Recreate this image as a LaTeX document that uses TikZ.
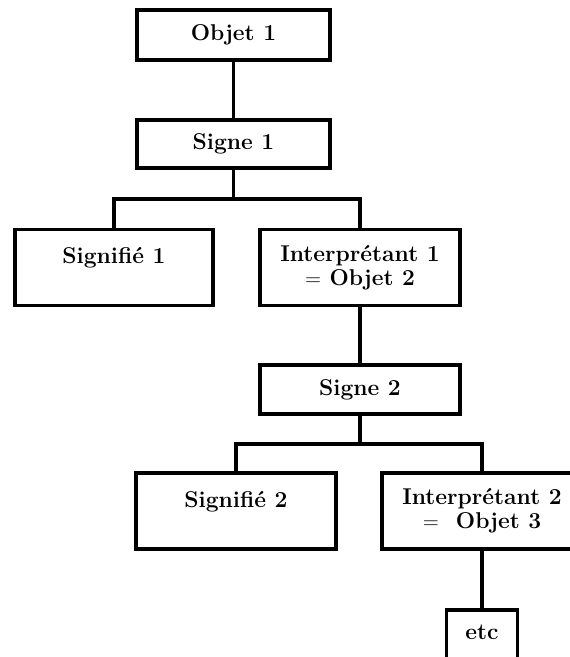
\documentclass[tikz,border=0pt]{standalone}
\usepackage{amsmath}
\usepackage{tikz}
\tikzset{
  box/.style={draw, line width=2.2pt, inner sep=0pt, align=center,
    minimum width=4cm, minimum height=1cm,
    font=\fontsize{13}{13.6}\selectfont\bfseries},
  tall/.style={minimum height=1.52cm},
  link/.style={line width=2.2pt}
}

\begin{document}
\begin{tikzpicture}[x=0.02cm,y=-0.02cm]
            \useasboundingbox (0,0) rectangle (570,657);
            % First sign
            \node[box, minimum width=3.86cm] (obj1) at (233.5,35) {Objet 1};
            \node[box, minimum width=3.86cm, minimum height=0.96cm] (sgn1) at (233.5,144) {Signe 1};
            \node[box, tall, minimum width=3.96cm] (sfe1) at (114,267.5) {Signifi\'e 1\\\phantom{X}};
            \node[box, tall] (int1) at (360,267.5) {Interpr\'etant 1\\$=$ Objet 2};
            \coordinate (b1) at (233.5,199);
            \draw[link] (obj1) -- (sgn1);
            \draw[link] (sgn1) -- (b1);
            \draw[link] (sfe1.north) |- (b1) -| (int1.north);
            % Second sign
            \node[box, minimum height=0.98cm] (sgn2) at (360,389.5) {Signe 2};
            \node[box, tall] (sfe2) at (236,511) {Signifi\'e 2\\\phantom{X}};
            \node[box, tall] (int2) at (482,511) {Interpr\'etant 2\\$=$\ \ Objet 3};
            \coordinate (b2) at (360,444);
            \draw[link] (int1) -- (sgn2);
            \draw[link] (sgn2) -- (b2);
            \draw[link] (sfe2.north) |- (b2) -| (int2.north);
            % etc
            \node[box, minimum width=1.42cm, minimum height=1.2cm, text height=0.6cm,
              text depth=0.6cm, anchor=north] (etc) at (482,608) {etc};
            \draw[link] (int2) -- (etc);
\end{tikzpicture}
\end{document}
